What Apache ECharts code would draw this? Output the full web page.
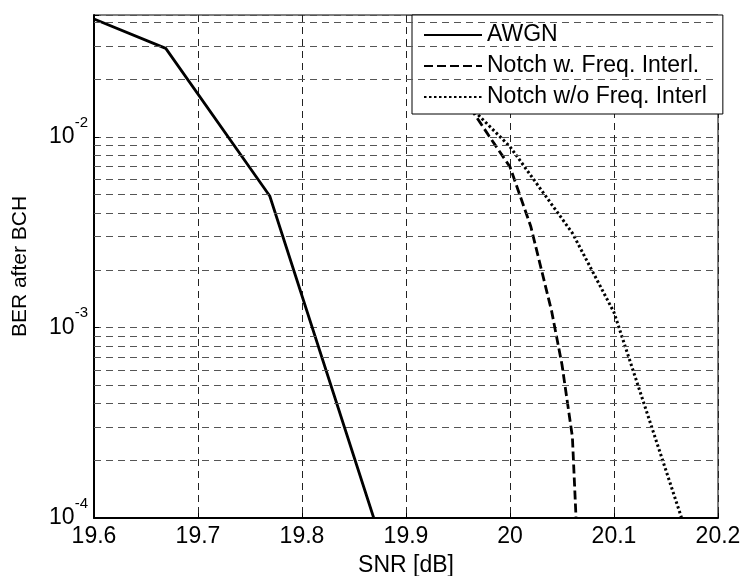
<!DOCTYPE html>
<html>
<head>
<meta charset="utf-8">
<script src="https://cdn.jsdelivr.net/npm/echarts@6/dist/echarts.min.js"></script>
<style>
html,body{margin:0;padding:0;background:#fff;}
#chart{width:744px;height:576px;}
</style>
</head>
<body>
<div id="chart"></div>
<script>
// ---- data ----
var xTicks = [19.6, 19.7, 19.8, 19.9, 20.0, 20.1, 20.2];
var yMin = 0.0001, yMax = 0.0437;
var minorGrid = [0.0002,0.0003,0.0004,0.0005,0.0006,0.0007,0.0008,0.0009,
                 0.002,0.003,0.004,0.005,0.006,0.007,0.008,0.009,
                 0.02,0.03,0.04];

var snrAwgn = [19.6, 19.669, 19.769, 19.869];
var berAwgn = [0.0416, 0.0292, 0.0049, 0.0001];

var snrNotchFi = [19.94, 19.96, 19.98, 20.0, 20.02, 20.04, 20.05, 20.06, 20.0635];
var berNotchFi = [0.021, 0.0147, 0.0101, 0.00697, 0.00339, 0.00122, 0.000638, 0.000266, 0.0001];

var snrNotchNoFi = [19.94, 19.96, 20.0, 20.06, 20.1, 20.165];
var berNotchNoFi = [0.021, 0.0147, 0.0089, 0.00313, 0.0012, 0.0001];

var names = ['AWGN', 'Notch w. Freq. Interl.', 'Notch w/o Freq. Interl'];

function zip(a, b) { return a.map(function (v, i) { return [v, b[i]]; }); }

var FONT = 'Liberation Sans, Arial, Helvetica, sans-serif';
var chart = echarts.init(document.getElementById('chart'), null, {renderer: 'canvas'});

var option = {
  animation: false,
  backgroundColor: '#fff',
  grid: {
    left: 94, right: 26, top: 15, bottom: 58,
    outerBoundsMode: 'none', containLabel: false,
    show: true, borderColor: '#000', borderWidth: 1, backgroundColor: '#fff'
  },
  legend: {
    show: true,
    data: names,
    orient: 'vertical',
    left: 412, top: 15,
    padding: [7, 16, 4, 11],
    itemGap: 5,
    itemWidth: 58, itemHeight: 1,
    itemStyle: {opacity: 0, borderWidth: 0},
    backgroundColor: '#fff',
    borderColor: '#000', borderWidth: 1, borderRadius: 0,
    textStyle: {fontFamily: FONT, fontSize: 23, color: '#000', lineHeight: 26},
    selectedMode: false
  },
  xAxis: {
    type: 'value',
    min: 19.6, max: 20.2, interval: 0.1,
    name: 'SNR [dB]', nameLocation: 'middle', nameGap: 36,
    nameTextStyle: {fontFamily: FONT, fontSize: 23, color: '#000'},
    axisLine: {show: true, onZero: false, lineStyle: {color: '#000', width: 2}},
    axisTick: {show: true, inside: true, length: 5, lineStyle: {color: '#000'}},
    axisLabel: {
      margin: 7, fontFamily: FONT, fontSize: 23, color: '#000',
      showMinLabel: true, showMaxLabel: true,
      formatter: function (v) { return String(Math.round(v * 10) / 10); }
    },
    splitLine: {show: true, lineStyle: {color: '#222', width: 1, type: [7, 5]}}
  },
  yAxis: {
    type: 'log', logBase: 10,
    min: yMin, max: yMax,
    name: 'BER after BCH', nameLocation: 'middle', nameGap: 63,
    nameTextStyle: {fontFamily: FONT, fontSize: 21, color: '#000'},
    axisLine: {show: true, lineStyle: {color: '#000', width: 2}},
    axisTick: {show: true, inside: true, length: 5, lineStyle: {color: '#000'}},
    axisLabel: {
      margin: 6, color: '#000', showMinLabel: true,
      formatter: function (v) {
        var e = Math.log10(v), r = Math.round(e);
        if (Math.abs(e - r) > 1e-6) return '';
        return '{b|10}{s|' + r + '}';
      },
      rich: {
        b: {fontFamily: FONT, fontSize: 23, color: '#000', lineHeight: 44},
        s: {fontFamily: FONT, fontSize: 15, color: '#000', lineHeight: 15, verticalAlign: 'top'}
      }
    },
    splitLine: {show: true, lineStyle: {color: '#555', width: 1, type: [7, 5]}}
  },
  series: [
    {
      name: names[0], type: 'line', symbol: 'none', z: 3,
      data: zip(snrAwgn, berAwgn),
      lineStyle: {color: '#000', width: 2.8, type: 'solid'},
      itemStyle: {color: '#000'},
      markLine: {
        silent: true, symbol: ['none', 'none'], animation: false,
        precision: 8,
        label: {show: false},
        lineStyle: {color: '#555', width: 1, type: [7, 5]},
        emphasis: {disabled: true},
        data: minorGrid.map(function (v) { return {yAxis: v}; })
      }
    },
    {
      name: names[1], type: 'line', symbol: 'none', z: 3,
      data: zip(snrNotchFi, berNotchFi),
      lineStyle: {color: '#000', width: 2.8, type: [9, 4]},
      itemStyle: {color: '#000'}
    },
    {
      name: names[2], type: 'line', symbol: 'none', z: 3,
      data: zip(snrNotchNoFi, berNotchNoFi),
      lineStyle: {color: '#000', width: 3, type: [2.5, 2.5]},
      itemStyle: {color: '#000'}
    }
  ]
};
chart.setOption(option);
</script>
</body>
</html>
